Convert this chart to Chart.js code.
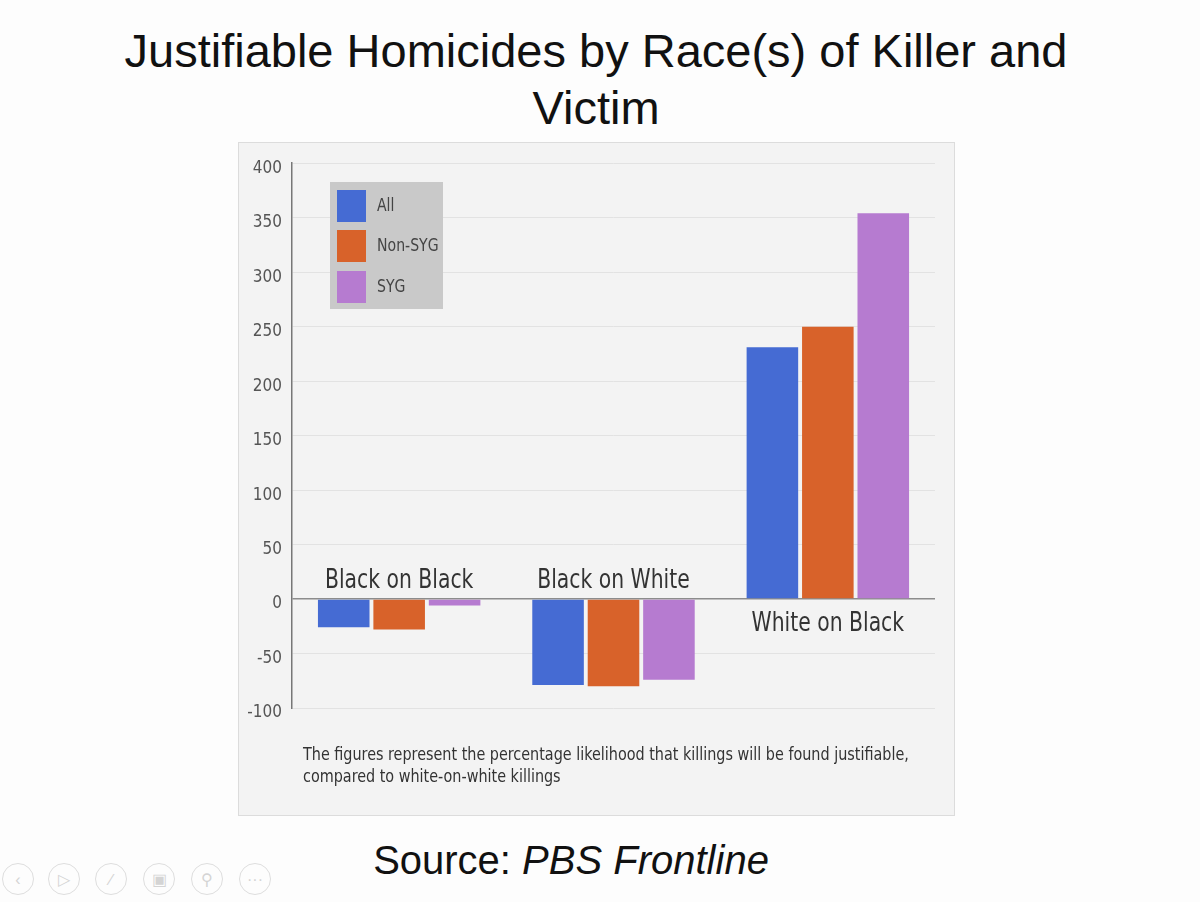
<!DOCTYPE html>
<html>
<head>
<meta charset="utf-8">
<script src="https://cdn.jsdelivr.net/npm/chart.js@4.4.1/dist/chart.umd.min.js"></script>
<style>
    html, body { margin: 0; padding: 0; background: #fdfdfd; }
    body { width: 1200px; height: 902px; position: relative; overflow: hidden; font-family: 'Liberation Sans', Arial, sans-serif; }
    #title { position: absolute; left: 0; top: 22px; width: 1192px; text-align: center; font-size: 47px; line-height: 57px; color: #111; }
    #box { position: absolute; left: 238px; top: 142px; width: 717px; height: 674px; box-sizing: border-box; border: 1px solid #dcdcdc; background: #f3f3f3; }
    #source { position: absolute; left: 0; top: 838px; width: 1142px; text-align: center; font-size: 40px; color: #111; }
    #source i { font-style: italic; }
    .ctl { position: absolute; top: 863px; width: 32px; height: 32px; border: 1.5px solid #dedede; border-radius: 50%; color: #d4d4d4; font-size: 16px; text-align: center; line-height: 32px; box-sizing: border-box; }
</style>
</head>
<body>
<div id="title">Justifiable Homicides by Race(s) of Killer and<br>Victim</div>
<div id="box"><canvas id="chartJH"></canvas></div>
<div id="source">Source: <i>PBS Frontline</i></div>
<div class="ctl" style="left:2px">&#8249;</div>
<div class="ctl" style="left:48px">&#9655;</div>
<div class="ctl" style="left:95px">&#8725;</div>
<div class="ctl" style="left:143px">&#9635;</div>
<div class="ctl" style="left:191px">&#9906;</div>
<div class="ctl" style="left:239px">&middot;&middot;&middot;</div>
<script>
document.addEventListener('DOMContentLoaded', function() {

    const categorias = ['Black on Black', 'Black on White', 'White on Black'];
    const serieAll = [-26, -79, 231];
    const serieNonSYG = [-28, -80, 250];
    const serieSYG = [-6, -74, 354];
    const yTicks = [-100, -50, 0, 50, 100, 150, 200, 250, 300, 350, 400];
    const nota = [
        'The figures represent the percentage likelihood that killings will be found justifiable,',
        'compared to white-on-white killings'
    ];

    const narrow = "'Liberation Sans Narrow', 'DejaVu Sans Condensed', sans-serif";

    // texto estrechado a mano (la fuente condensada del original no esta)
    function squeezeText(ctx, txt, x, y, sx) {
        ctx.save();
        ctx.translate(x, y);
        ctx.scale(sx, 1);
        ctx.fillText(txt, 0, 0);
        ctx.restore();
    }

    // etiquetas de categoria junto a la linea de cero
    const categoryLabels = {
        id: 'categoryLabels',
        afterDatasetsDraw(chart) {
            const ctx = chart.ctx;
            const x = chart.scales.x, y = chart.scales.y;
            const y0 = y.getPixelForValue(0);
            ctx.save();
            ctx.font = '26px ' + narrow;
            ctx.fillStyle = '#333';
            ctx.textAlign = 'center';
            ctx.textBaseline = 'alphabetic';
            categorias.forEach((c, i) => {
                const vals = chart.data.datasets.map(d => d.data[i]);
                const positivo = Math.max(...vals) > 0;
                squeezeText(ctx, c, x.getPixelForValue(i), positivo ? y0 + 32 : y0 - 11, 0.87);
            });
            ctx.restore();
        }
    };

    // leyenda con fondo gris, dentro del area del grafico
    const boxLegend = {
        id: 'boxLegend',
        afterDraw(chart) {
            const ctx = chart.ctx;
            ctx.save();
            ctx.fillStyle = '#c9c9c9';
            ctx.fillRect(91, 39, 113, 127);
            ctx.font = '17px ' + narrow;
            ctx.textBaseline = 'middle';
            ctx.textAlign = 'left';
            const tops = [47, 87, 128];
            chart.data.datasets.forEach((d, i) => {
                ctx.fillStyle = d.backgroundColor;
                ctx.fillRect(98, tops[i], 29, 32);
                ctx.fillStyle = '#444';
                squeezeText(ctx, d.label, 138, tops[i] + 17, 0.92);
            });
            ctx.font = '17px ' + narrow;
            ctx.fillStyle = '#333';
            ctx.textBaseline = 'alphabetic';
            squeezeText(ctx, nota[0], 64, 617, 0.94);
            squeezeText(ctx, nota[1], 64, 639, 0.94);
            ctx.restore();
        }
    };

    const canvas = document.getElementById('chartJH');
    new Chart(canvas.getContext('2d'), {
        type: 'bar',
        data: {
            labels: categorias,
            datasets: [
                { label: 'All', data: serieAll, backgroundColor: '#456bd3' },
                { label: 'Non-SYG', data: serieNonSYG, backgroundColor: '#d8622a' },
                { label: 'SYG', data: serieSYG, backgroundColor: '#b67bd0' }
            ]
        },
        options: {
            responsive: true,
            maintainAspectRatio: false,
            animation: false,
            layout: { padding: { left: 0, right: 19, top: 15, bottom: 107 } },
            datasets: { bar: { categoryPercentage: 0.776, barPercentage: 0.93 } },
            scales: {
                x: { display: false },
                y: {
                    min: -100,
                    max: 400,
                    afterFit: s => { s.width = 53; },
                    afterBuildTicks: s => { s.ticks = yTicks.map(v => ({ value: v })); },
                    border: { display: true, color: '#777', width: 1.5 },
                    grid: {
                        drawTicks: false,
                        color: c => c.tick && c.tick.value === 0 ? '#8c8c8c' : '#e2e2e2',
                        lineWidth: c => c.tick && c.tick.value === 0 ? 1.5 : 1
                    },
                    ticks: {
                        padding: 10,
                        labelOffset: 5,
                        color: '#555',
                        font: { family: narrow, size: 17 }
                    }
                }
            },
            plugins: {
                legend: { display: false },
                tooltip: { enabled: false }
            }
        },
        plugins: [categoryLabels, boxLegend]
    });
});
</script>
</body>
</html>
